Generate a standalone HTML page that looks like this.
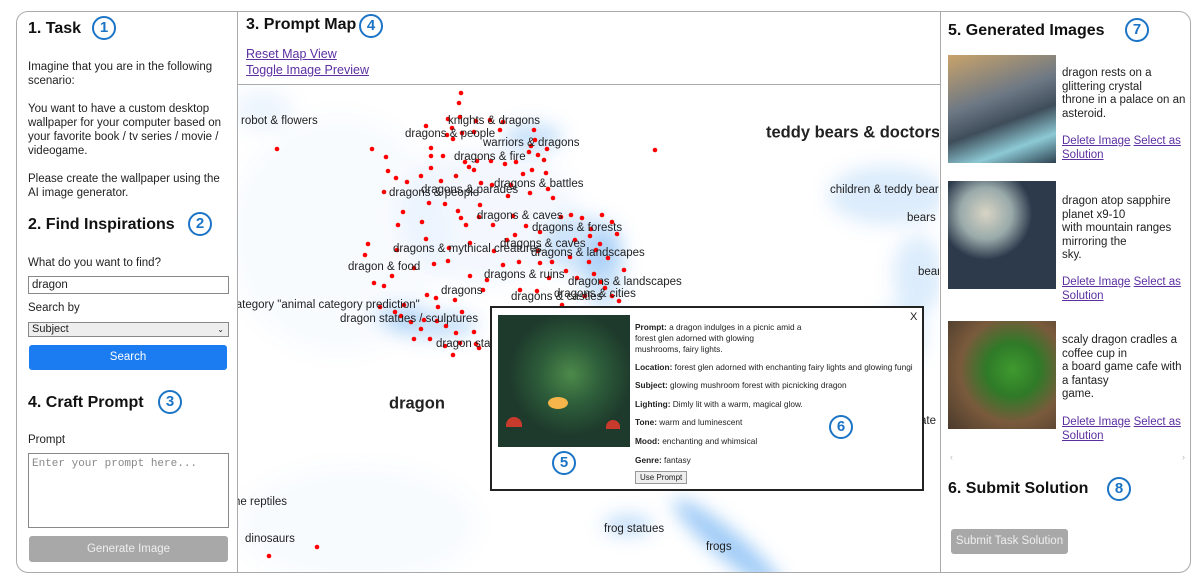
<!DOCTYPE html>
<html><head><meta charset="utf-8">
<style>
*{box-sizing:border-box;margin:0;padding:0}
body{width:1204px;height:582px;background:#fff;font-family:"Liberation Sans",sans-serif;color:#222;position:relative;overflow:hidden}
.abs{position:absolute}
.h{font-weight:bold;font-size:16px;color:#111}
.badge{position:absolute;width:24px;height:24px;border:2px solid #1b74c5;border-radius:50%;color:#1b74c5;font-weight:bold;font-size:15px;text-align:center;line-height:20px;background:#fff}
.t{font-size:11.5px;line-height:14px}
.cap{font-size:11.5px;line-height:13.5px;width:126px}
a{color:#5b2fa0;text-decoration:underline}
.lab{position:absolute;font-size:11.5px;color:#222;white-space:nowrap;transform:translateY(-50%)}
.pl{font-size:8.3px;line-height:11px;color:#222}
</style></head><body>
<div class="abs" style="left:16px;top:11px;width:1175px;height:562px;border:1.5px solid #aaa;border-radius:12px;overflow:hidden">

<div class="abs" style="left:0;top:0;width:221px;height:562px;border-right:1.5px solid #aaa">
 <div class="abs h" style="left:11px;top:8px">1. Task</div>
 <div class="badge" style="left:75px;top:4px">1</div>
 <div class="abs t" style="left:11px;top:48px;width:205px">Imagine that you are in the following scenario:<br><br>You want to have a custom desktop wallpaper for your computer based on your favorite book / tv series / movie / videogame.<br><br>Please create the wallpaper using the AI image generator.</div>
 <div class="abs h" style="left:11px;top:204px">2. Find Inspirations</div>
 <div class="badge" style="left:171px;top:200px">2</div>
 <div class="abs t" style="left:11px;top:244px">What do you want to find?</div>
 <div class="abs t" style="left:11px;top:264px;width:201px;height:18px;border:1px solid #888;padding:1px 3px">dragon</div>
 <div class="abs t" style="left:11px;top:289px">Search by</div>
 <div class="abs t" style="left:11px;top:310px;width:201px;height:15px;border:1px solid #888;background:#eee;padding:0 3px;font-size:11px;line-height:13px">Subject<span style="position:absolute;right:4px;font-size:8px">&#8964;</span></div>
 <div class="abs" style="left:12px;top:333px;width:198px;height:25px;background:#1a7cf0;border-radius:3px;color:#fff;font-size:11.5px;text-align:center;line-height:25px">Search</div>
 <div class="abs h" style="left:11px;top:382px">4. Craft Prompt</div>
 <div class="badge" style="left:141px;top:378px">3</div>
 <div class="abs t" style="left:11px;top:421px">Prompt</div>
 <div class="abs" style="left:11px;top:441px;width:201px;height:75px;border:1px solid #888;font-family:'Liberation Mono',monospace;font-size:11px;color:#888;padding:4px 3px">Enter your prompt here...</div>
 <div class="abs" style="left:12px;top:524px;width:199px;height:26px;background:#a8a8a8;border-radius:3px;color:#eee;font-size:11.5px;text-align:center;line-height:26px">Generate Image</div>
</div>

<div class="abs h" style="left:229px;top:4px">3. Prompt Map</div>
<div class="badge" style="left:342px;top:2px">4</div>
<a class="abs t" style="left:229px;top:35px;font-size:12.5px">Reset Map View</a>
<a class="abs t" style="left:229px;top:51px;font-size:12.5px">Toggle Image Preview</a>
<div class="abs" style="left:221px;top:72px;width:703px;border-top:1.5px solid #aaa"></div>

<div class="abs" style="left:923px;top:0;width:252px;height:562px;border-left:1.5px solid #aaa">
 <div class="abs h" style="left:7px;top:10px">5. Generated Images</div>
 <div class="badge" style="left:184px;top:6px">7</div>
 <div class="abs" style="left:7px;top:43px;width:108px;height:108px;background:linear-gradient(160deg,#c9a36a,#6d7885 40%,#3f4d5a 60%,#8cc9d4 80%,#2e4150)"></div>
 <div class="abs cap" style="left:121px;top:55px">dragon rests on a<br>glittering crystal<br>throne in a palace on an<br>asteroid.</div>
 <div class="abs cap" style="left:121px;top:123px"><a>Delete Image</a> <a>Select as</a><br><a>Solution</a></div>
 <div class="abs" style="left:7px;top:169px;width:108px;height:108px;background:radial-gradient(circle at 35% 30%,#d8d4c4 0,#9aa 25%,#2c3a4c 45%),linear-gradient(#2c3a4c,#6b4f3a)"></div>
 <div class="abs cap" style="left:121px;top:183px">dragon atop sapphire<br>planet x9-10<br>with mountain ranges<br>mirroring the<br>sky.</div>
 <div class="abs cap" style="left:121px;top:264px"><a>Delete Image</a> <a>Select as</a><br><a>Solution</a></div>
 <div class="abs" style="left:7px;top:309px;width:108px;height:108px;background:radial-gradient(circle at 60% 45%,#3f9a2f 0,#2f7a28 30%,#7a5a3c 60%,#4a3a2c)"></div>
 <div class="abs cap" style="left:121px;top:322px">scaly dragon cradles a<br>coffee cup in<br>a board game cafe with<br>a fantasy<br>game.</div>
 <div class="abs cap" style="left:121px;top:404px"><a>Delete Image</a> <a>Select as</a><br><a>Solution</a></div>
 <div class="abs" style="left:9px;top:440px;font-size:9px;color:#bbb">&lsaquo;</div>
 <div class="abs" style="left:241px;top:440px;font-size:9px;color:#bbb">&rsaquo;</div>
 <div class="abs h" style="left:7px;top:468px">6. Submit Solution</div>
 <div class="badge" style="left:166px;top:465px">8</div>
 <div class="abs" style="left:10px;top:517px;width:117px;height:25px;background:#a8a8a8;border-radius:3px;color:#eee;font-size:11.5px;text-align:center;line-height:25px">Submit Task Solution</div>
</div>
</div>

<div class="abs" id="map" style="left:238px;top:85px;width:701px;height:487px;overflow:hidden">
<svg id="mapsvg" width="701" height="487" style="position:absolute;left:0;top:0">
 <defs><filter id="bl" x="-50%" y="-50%" width="200%" height="200%"><feGaussianBlur stdDeviation="9"/></filter></defs>
 <g filter="url(#bl)" fill="#4fa0f0">
  <ellipse cx="100" cy="150" rx="110" ry="120" opacity="0.04"/>
  <ellipse cx="25" cy="25" rx="30" ry="20" opacity="0.1"/>
  <ellipse cx="295" cy="52" rx="30" ry="14" opacity="0.3"/>
  <ellipse cx="250" cy="130" rx="90" ry="70" opacity="0.07"/>
  <ellipse cx="345" cy="160" rx="40" ry="30" opacity="0.25"/>
  <ellipse cx="365" cy="185" rx="20" ry="40" opacity="0.3"/>
  <ellipse cx="195" cy="240" rx="45" ry="14" opacity="0.3"/>
  <ellipse cx="160" cy="230" rx="25" ry="10" opacity="0.3"/>
  <ellipse cx="650" cy="110" rx="60" ry="30" opacity="0.2"/>
  <ellipse cx="680" cy="190" rx="25" ry="40" opacity="0.2"/>
  <ellipse cx="660" cy="250" rx="30" ry="30" opacity="0.15"/>
  <ellipse cx="490" cy="460" rx="70" ry="14" opacity="0.55" transform="rotate(40 490 460)"/>
  <ellipse cx="390" cy="440" rx="25" ry="10" opacity="0.35"/>
  <ellipse cx="120" cy="440" rx="120" ry="60" opacity="0.04"/>
 </g>
 <g id="pts"></g>
</svg>
<div class="lab" style="left:3px;top:36px">robot &amp; flowers</div>
<div class="lab" style="left:210px;top:36px">knights &amp; dragons</div>
<div class="lab" style="left:167px;top:49px">dragons &amp; people</div>
<div class="lab" style="left:245px;top:58px">warriors &amp; dragons</div>
<div class="lab" style="left:216px;top:72px">dragons &amp; fire</div>
<div class="lab" style="left:256px;top:99px">dragons &amp; battles</div>
<div class="lab" style="left:183px;top:105px">dragons &amp; parades</div>
<div class="lab" style="left:151px;top:108px">dragons &amp; people</div>
<div class="lab" style="left:239px;top:131px">dragons &amp; caves</div>
<div class="lab" style="left:294px;top:143px">dragons &amp; forests</div>
<div class="lab" style="left:262px;top:159px">dragons &amp; caves</div>
<div class="lab" style="left:155px;top:164px">dragons &amp; mythical creatures</div>
<div class="lab" style="left:293px;top:168px">dragons &amp; landscapes</div>
<div class="lab" style="left:110px;top:182px">dragon &amp; food</div>
<div class="lab" style="left:246px;top:190px">dragons &amp; ruins</div>
<div class="lab" style="left:330px;top:197px">dragons &amp; landscapes</div>
<div class="lab" style="left:203px;top:206px">dragons</div>
<div class="lab" style="left:316px;top:209px">dragons &amp; cities</div>
<div class="lab" style="left:273px;top:212px">dragons &amp; castles</div>
<div class="lab" style="left:-8px;top:220px">category "animal category prediction"</div>
<div class="lab" style="left:102px;top:234px">dragon statues / sculptures</div>
<div class="lab" style="left:198px;top:259px">dragon statues</div>
<div class="lab" style="left:151px;top:319px;font-size:16.5px;font-weight:bold">dragon</div>
<div class="lab" style="left:528px;top:48px;font-size:16.5px;font-weight:bold">teddy bears &amp; doctors</div>
<div class="lab" style="left:592px;top:105px">children &amp; teddy bears</div>
<div class="lab" style="left:669px;top:133px">bears &amp;</div>
<div class="lab" style="left:680px;top:187px">bear</div>
<div class="lab" style="left:682px;top:336px">ate</div>
<div class="lab" style="left:-4px;top:417px">he reptiles</div>
<div class="lab" style="left:7px;top:454px">dinosaurs</div>
<div class="lab" style="left:366px;top:444px">frog statues</div>
<div class="lab" style="left:468px;top:462px">frogs</div>

<div class="abs" style="left:252px;top:221px;width:434px;height:185px;border:2px solid #222;background:#fff">
 <div class="abs" style="left:6px;top:7px;width:132px;height:132px;background:radial-gradient(circle at 55% 45%,#4d8a4a 0,#2d5d3a 30%,#1e3a2c 60%),#1e3a2c"><div style="position:absolute;left:50px;top:82px;width:20px;height:12px;border-radius:50%;background:#f5b54a"></div><div style="position:absolute;left:8px;top:102px;width:16px;height:10px;border-radius:8px 8px 0 0;background:#c73a2c"></div><div style="position:absolute;left:108px;top:105px;width:14px;height:9px;border-radius:8px 8px 0 0;background:#c73a2c"></div></div>
 <div class="badge" style="left:60px;top:143px">5</div>
 <div class="abs" style="left:418px;top:3px;font-size:11px">X</div>
 <div class="abs pl" style="left:143px;top:14px;width:290px">
  <div style="width:180px"><b>Prompt:</b> a dragon indulges in a picnic amid a<br>forest glen adorned with glowing<br>mushrooms, fairy lights.</div>
  <div style="margin-top:7px;white-space:nowrap"><b>Location:</b> forest glen adorned with enchanting fairy lights and glowing fungi</div>
  <div style="margin-top:7px"><b>Subject:</b> glowing mushroom forest with picnicking dragon</div>
  <div style="margin-top:8px"><b>Lighting:</b> Dimly lit with a warm, magical glow.</div>
  <div style="margin-top:7px"><b>Tone:</b> warm and luminescent</div>
  <div style="margin-top:8px"><b>Mood:</b> enchanting and whimsical</div>
  <div style="margin-top:8px"><b>Genre:</b> fantasy</div>
  <div style="margin-top:5px;display:inline-block;border:1px solid #999;background:#eee;padding:0 4px;font-size:8px;line-height:11px">Use Prompt</div>
 </div>
 <div class="badge" style="left:337px;top:107px">6</div>
</div>
</div>

<script>
const pointX=[461,459,448,460,476,490,503,426,452,447,453,462,474,500,534,535,531,529,538,547,544,372,277,386,431,431,443,431,465,469,477,491,505,516,523,532,546,384,396,407,421,441,456,474,481,492,508,511,530,548,553,403,398,422,429,445,458,461,466,479,493,513,526,540,561,571,582,591,602,612,617,600,589,594,601,605,612,619,570,566,577,552,540,538,519,503,487,483,470,448,434,414,392,384,374,368,365,397,426,449,470,494,507,436,438,404,395,411,424,437,446,456,474,496,421,401,414,430,445,460,479,495,453,476,462,427,380,655,269,317,549,537,562,585,596,575,608,624,590,520,515,455,388,480];
const pointY=[93,103,119,117,121,120,122,126,128,135,139,133,132,130,130,140,146,152,155,149,160,149,149,157,148,156,156,168,162,167,161,161,164,162,174,170,173,192,178,182,176,181,176,170,183,185,196,185,193,189,198,212,225,222,203,204,211,218,225,217,225,216,226,232,217,215,218,229,215,222,234,244,262,274,282,288,296,301,257,271,278,262,263,251,262,265,280,290,276,261,264,268,276,286,283,244,255,250,239,248,243,251,240,298,307,305,312,322,320,321,326,333,332,326,329,316,339,339,346,343,348,339,355,344,312,295,307,150,556,547,278,291,305,296,250,240,258,270,236,290,235,300,171,205];
const OX=238, OY=85;
const sx=v=>v-OX, sy=v=>v-OY;
const g=document.getElementById('pts');
for(let i=0;i<pointX.length;i++){
 const c=document.createElementNS('http://www.w3.org/2000/svg','circle');
 c.setAttribute('cx',sx(pointX[i]));
 c.setAttribute('cy',sy(pointY[i]));
 c.setAttribute('r',2.3);
 c.setAttribute('fill','#f00');
 
 
 g.appendChild(c);
}
</script>
</body></html>
